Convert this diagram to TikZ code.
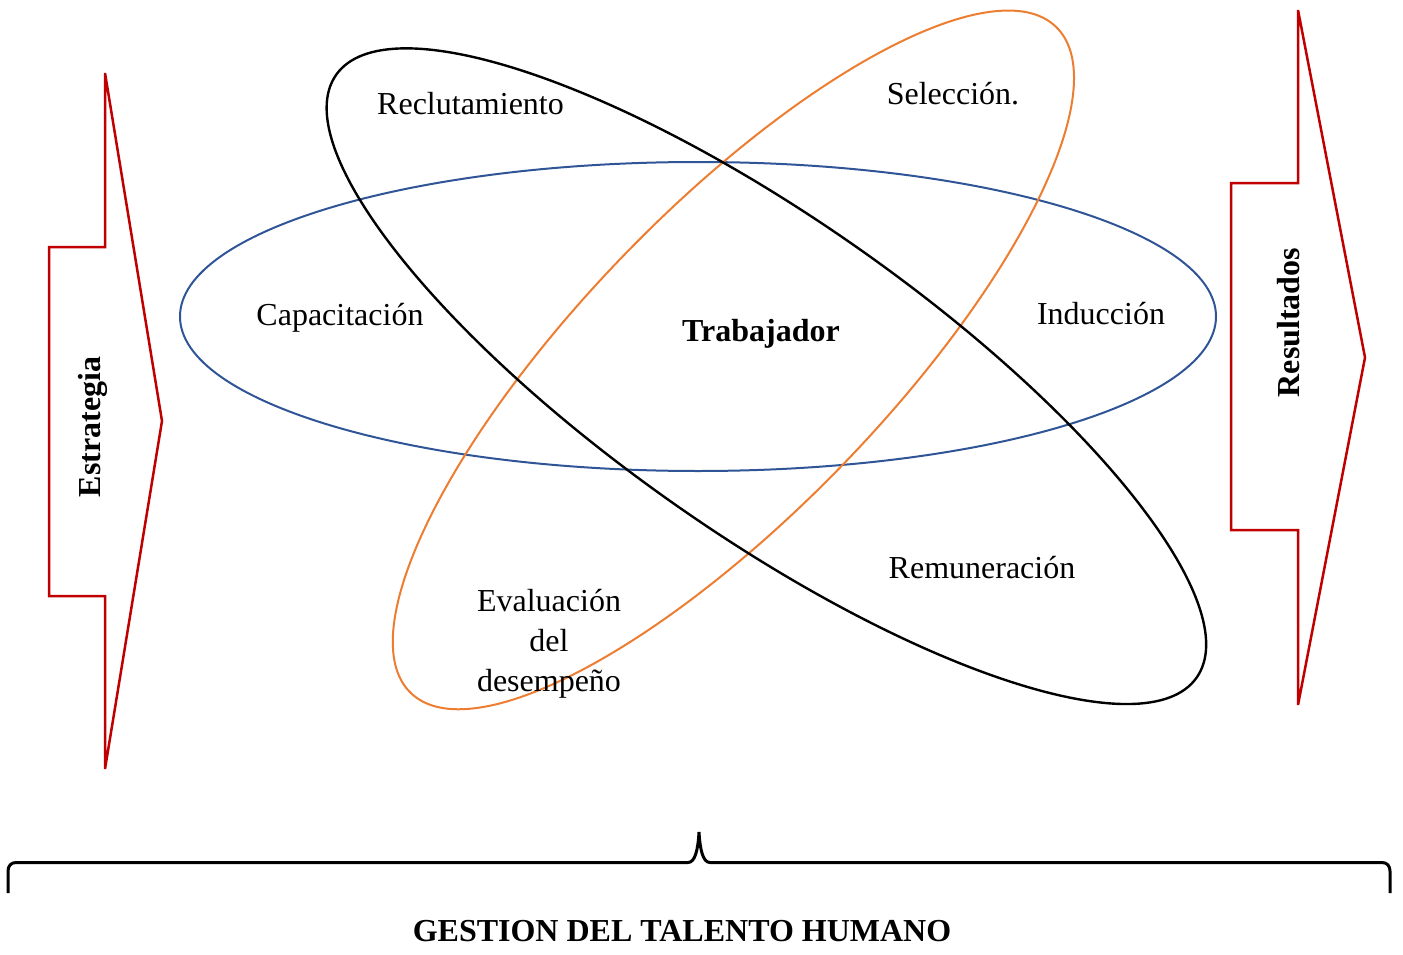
\documentclass[tikz,border=0pt]{standalone}
\usepackage{fontspec}
\setmainfont{Liberation Serif}
\definecolor{eblue}{HTML}{2F5597}
\definecolor{eorange}{HTML}{ED7D31}
\definecolor{ered}{HTML}{C00000}
\begin{document}
\begin{tikzpicture}[x=1pt,y=-1pt,
  lbl/.style={font=\fontsize{32}{40}\selectfont, inner sep=0pt, anchor=base, align=center},
  blbl/.style={lbl, font=\fontsize{32}{40}\selectfont\bfseries},
  ring/.style={line width=2pt},
  blockarrow/.style={draw=ered, line width=2.5pt, line join=miter},
  bracepath/.style={line width=3pt}]
\useasboundingbox (0,0) rectangle (1403,955);

% ellipses
\draw[ring, eblue] (698,316.5) ellipse [x radius=518, y radius=154.5];
\draw[ring, eorange, rotate around={45.9:(733.4,359.9)}] (733.4,359.9) ellipse [x radius=463.7, y radius=151.5];
\draw[ring, line width=2.4pt, black, rotate around={-35:(766.4,376.2)}] (766.4,376.2) ellipse [x radius=525.3, y radius=157.5];

% block arrows
\draw[blockarrow] (105,73) -- (162,421) -- (105,769) -- (105,596) -- (49,596) -- (49,247) -- (105,247) -- cycle;
\draw[blockarrow] (1298,10) -- (1365,357.5) -- (1298,705) -- (1298,530) -- (1231,530) -- (1231,183) -- (1298,183) -- cycle;

% labels
\node[lbl] (reclut) at (470.5,115) {Reclutamiento};
\node[lbl] (selec) at (953,105) {Selección.};
\node[lbl] (capac) at (340,325) {Capacitación};
\node[blbl] (trab) at (761,341) {Trabajador};
\node[lbl] (induc) at (1101,324) {Inducción};
\node[lbl] (remun) at (982,578) {Remuneración};
\node[lbl] (evalu) at (549,691) {Evaluación\\del\\desempeño};
\node[blbl, anchor=center, rotate=90] (estr) at (93,427) {Estrategia};
\node[blbl, anchor=center, rotate=90] (resul) at (1288.5,322.5) {Resultados};
\node[blbl] (gest) at (682,941) {GESTION DEL TALENTO HUMANO};

% brace
\draw[bracepath] (8,893) -- (8,871) .. controls (8,866) and (11,862.5) .. (16,862.5)
  -- (688,862.5) .. controls (695,862.5) and (698,850) .. (699,832)
  .. controls (700,850) and (703,862.5) .. (710,862.5)
  -- (1382,862.5) .. controls (1387,862.5) and (1390,866) .. (1390,871) -- (1390,893);
\end{tikzpicture}
\end{document}
